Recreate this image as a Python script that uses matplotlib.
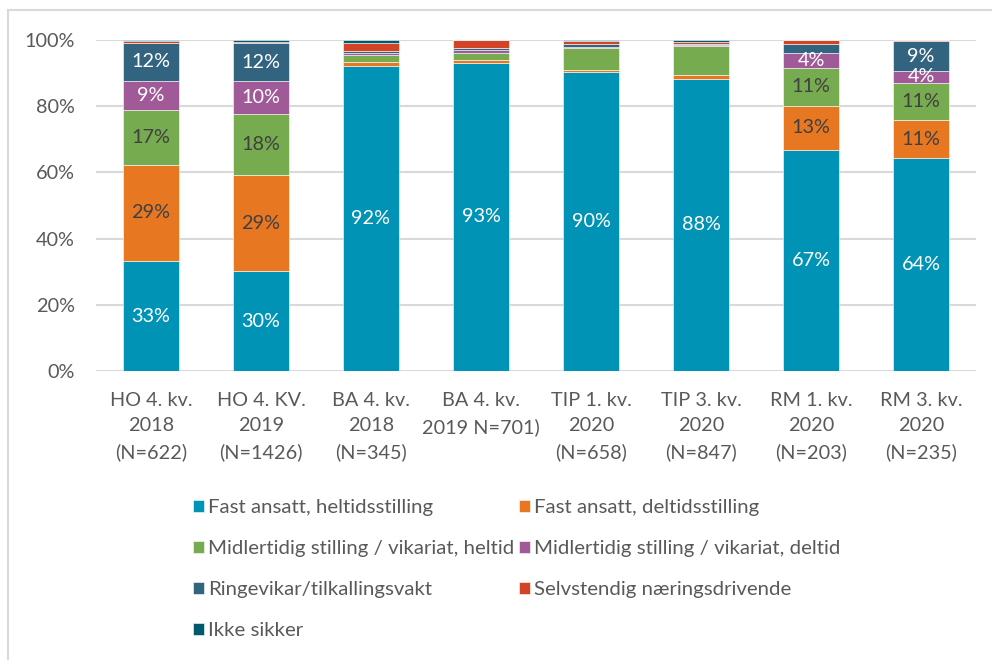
import matplotlib.pyplot as plt
from matplotlib.patches import Rectangle
import numpy as np

# survey rounds on the x axis
categories = ['HO 4. kv.\n2018\n(N=622)', 'HO 4. KV.\n2019\n(N=1426)',
              'BA 4. kv.\n2018\n(N=345)', 'BA 4. kv.\n2019 N=701)',
              'TIP 1. kv.\n2020\n(N=658)', 'TIP 3. kv.\n2020\n(N=847)',
              'RM 1. kv.\n2020\n(N=203)', 'RM 3. kv.\n2020\n(N=235)']

# shares in percent
fast_heltid = [33.2, 30.2, 92.1, 93.2, 90.4, 88.3, 66.9, 64.3]
fast_deltid = [29.1, 29.0, 1.2, 0.9, 0.4, 1.1, 13.3, 11.4]
midl_heltid = [16.7, 18.3, 2.2, 2.1, 6.7, 8.8, 11.4, 11.3]
midl_deltid = [8.6, 10.0, 0.5, 0.8, 0.5, 0.3, 4.4, 3.7]
ringevikar = [11.6, 11.6, 0.6, 0.5, 0.8, 0.3, 2.9, 8.9]
selvstendig = [0.4, 0.4, 2.5, 2.5, 0.8, 0.6, 1.1, 0.4]
ikke_sikker = [0.4, 0.5, 0.9, 0.0, 0.4, 0.6, 0.0, 0.0]

series_names = ['Fast ansatt, heltidsstilling', 'Fast ansatt, deltidsstilling',
                'Midlertidig stilling / vikariat, heltid',
                'Midlertidig stilling / vikariat, deltid',
                'Ringevikar/tilkallingsvakt', 'Selvstendig næringsdrivende',
                'Ikke sikker']
series_values = [fast_heltid, fast_deltid, midl_heltid, midl_deltid,
                 ringevikar, selvstendig, ikke_sikker]

my_colors = ['#0093B5', '#E87722', '#76AB4F', '#A05A98', '#33647F', '#D24425', '#005A6B']
label_colors = ['white', '#404040', '#404040', 'white', 'white', 'white', 'white']
text_gray = '#595959'

plt.rcParams['font.family'] = ['Lato', 'DejaVu Sans']

fig = plt.figure(figsize=(9.92, 6.6), dpi=100)
fig.patches.append(Rectangle((8 / 992, -0.1), 1.2, 1.1 - 10 / 660,
                             transform=fig.transFigure, facecolor='none',
                             edgecolor='#D9D9D9', linewidth=1.5))
ax = fig.add_axes([96 / 992, 1 - 371 / 660, 880 / 992, 331 / 660])

x = np.arange(len(categories))
bottom = np.zeros(len(categories))
handles = []
for k, (name, vals) in enumerate(zip(series_names, series_values)):
    vals = np.array(vals) / 100
    bars = ax.bar(x, vals, width=0.506, bottom=bottom, color=my_colors[k],
                  edgecolor='white', linewidth=0.4, label=name, zorder=2)
    handles.append(bars)
    for i, v in enumerate(vals):
        # TIP rounds only show the big share
        if v * 100 >= 3.5 and (i not in (4, 5) or k == 0):
            ax.text(x[i], bottom[i] + v / 2, '%.0f%%' % (v * 100), ha='center',
                    va='center', fontsize=14.3, color=label_colors[k], zorder=3)
    bottom += vals

ax.set_xlim(-0.5, len(categories) - 0.5)
ax.set_ylim(0, 1)
ax.set_yticks(np.arange(0, 1.01, 0.2))
ax.set_yticklabels(['%d%%' % (t * 100) for t in np.arange(0, 1.01, 0.2)])
ax.set_xticks(x)
ax.set_xticklabels(categories, linespacing=1.6)
ax.tick_params(axis='y', length=0, pad=15, labelsize=14.3, labelcolor=text_gray)
ax.tick_params(axis='x', length=0, pad=15, labelsize=14.3, labelcolor=text_gray)
ax.grid(axis='y', color='#D9D9D9', linewidth=1.5, zorder=0)
for s in ax.spines.values():
    s.set_visible(False)

# legend is filled column by column, so put the items in row order
order = [0, 2, 4, 6, 1, 3, 5]
leg = fig.legend([handles[i] for i in order], [series_names[i] for i in order],
                 ncol=2, loc='upper left', bbox_to_anchor=(183 / 992, 1 - 489 / 660),
                 frameon=False, fontsize=14.7, handlelength=0.52, handleheight=0.52,
                 handletextpad=0.2, columnspacing=0.25, labelspacing=1.18,
                 borderpad=0, labelcolor=text_gray)

plt.savefig('out.png', dpi=100)
